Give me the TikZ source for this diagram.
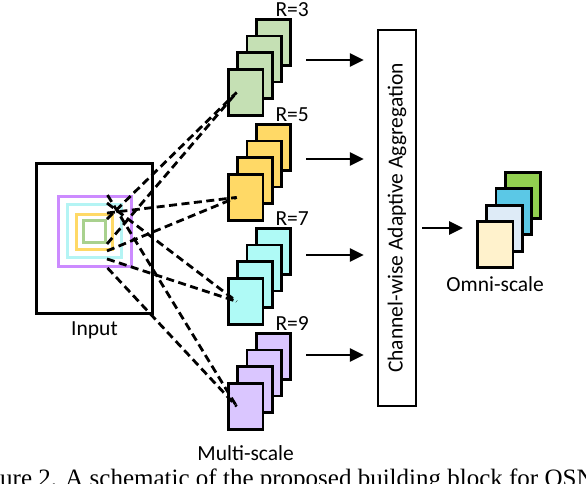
\documentclass[tikz,border=0pt]{standalone}
\usepackage{fontspec}
\setmainfont{Carlito}
\newfontfamily\capfont{Liberation Serif}
\usetikzlibrary{arrows.meta,positioning}

\definecolor{mapgreen}{HTML}{C5E0B4}
\definecolor{mapyellow}{HTML}{FFD966}
\definecolor{mapcyan}{HTML}{AFFAF6}
\definecolor{mappurple}{HTML}{DAC6FF}
\definecolor{sqgreen}{HTML}{A9D18E}
\definecolor{sqyellow}{HTML}{FFD966}
\definecolor{sqcyan}{HTML}{B4F4F4}
\definecolor{sqpurple}{HTML}{CC8BFF}
\definecolor{omgreen}{HTML}{92D050}
\definecolor{omblue}{HTML}{5BC8E6}
\definecolor{omsky}{HTML}{DEEBF7}
\definecolor{omcream}{HTML}{FFF2CC}

\tikzset{
  fmap/.style={draw, line width=2.8pt, minimum width=34.5pt, minimum height=46pt, inner sep=0pt, anchor=north west},
  sq/.style={line width=3.4pt, inner sep=0pt},
  dash line/.style={line width=2.8pt, dash pattern=on 8pt off 4.5pt},
  arr/.style={line width=2.6pt, -{Triangle[length=14pt,width=13pt]}},
  lbl/.style={font=\fontsize{21.5}{25}\selectfont, inner sep=0pt},
}

\begin{document}
\begin{tikzpicture}[x=1pt,y=-1pt]
  \useasboundingbox (0,0) rectangle (586,484);

  % input and the four receptive fields
  \node [draw, line width=2.6pt, minimum width=116.5pt, minimum height=150.5pt](in) at (94.5,238.5) {};
  \node [sq, draw=sqpurple, minimum width=72.5pt, minimum height=69.5pt](q9) at (95,231.5) {};
  \node [sq, draw=sqcyan, minimum width=53.5pt, minimum height=52.5pt](q7) at (94.5,231) {};
  \node [sq, draw=sqyellow, minimum width=35.5pt, minimum height=34.5pt](q5) at (94.5,232) {};
  \node [sq, draw=sqgreen, minimum width=21.5pt, minimum height=21.5pt](q3) at (94.5,231.5) {};
  \node [lbl, below=6pt of in](input) {Input};

  % multi-scale stacks
  \foreach \c/\top/\r in {mapgreen/68/3, mapyellow/173/5, mapcyan/277/7, mappurple/382/9}{
    \foreach \i in {3,2,1,0}
      \node [fmap, fill=\c](s\r-\i) at (227+9.3*\i, \top-16.7*\i) {};
    \node [lbl, above=1.5pt of s\r-3.north east](r\r) {R=\r};
  }
  \node [lbl, below=15pt of s9-0](multi) {Multi-scale};

  \foreach \r in {3,5,7,9}{
    \draw [dash line] ([xshift=12.5pt]q\r.north) -- ([xshift=-9pt]s\r-0.center);
    \draw [dash line] ([xshift=12.5pt]q\r.south) -- ([xshift=-9pt]s\r-0.center);
  }

  % aggregation
  \node [draw, line width=2.4pt, rotate=90, minimum width=376pt, minimum height=38pt, lbl](agg) at (397,218) {Channel-wise Adaptive Aggregation};
  \foreach \r/\y in {3/60, 5/159, 7/255, 9/355}{
    \coordinate (a\r) at (306,\y);
    \draw [arr, shorten >=13pt] (a\r) -- (agg.north |- a\r);
  }

  % omni-scale output
  \foreach \i/\c in {3/omgreen, 2/omblue, 1/omsky, 0/omcream}
    \node [fmap, fill=\c, minimum width=35.5pt](o\i) at (476+9.3*\i, 220-16.3*\i) {};
  \node [lbl, below=8pt of o0](omni) {Omni-scale};
  \coordinate (b) at (422,228);
  \draw [arr, shorten >=13pt] (b) -- (o0.west |- b);

  \node [font=\capfont\fontsize{25}{30}\selectfont, inner sep=0pt, anchor=base west](cap) at (0,486) {ure 2. A schematic of the proposed building block for OSN};
\end{tikzpicture}
\end{document}
